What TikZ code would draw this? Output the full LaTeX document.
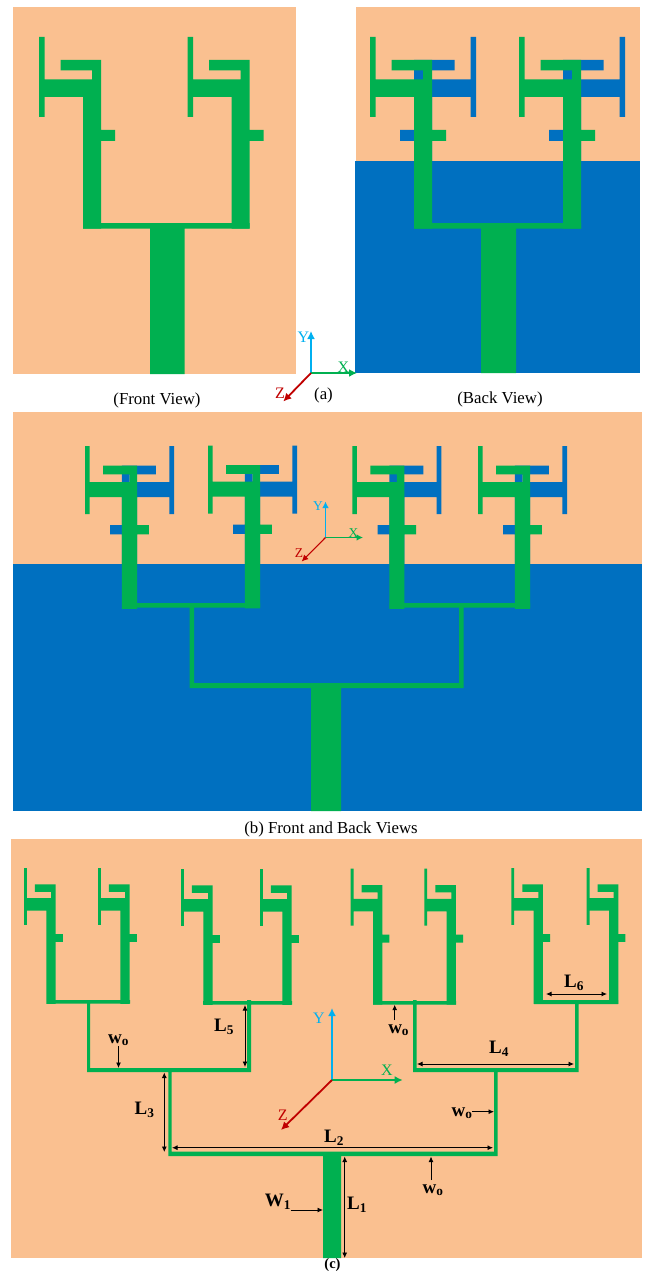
\documentclass[tikz,border=0pt]{standalone}
\usepackage{fontspec}
\setmainfont{Liberation Serif}
\usetikzlibrary{arrows.meta}
\definecolor{peach}{HTML}{FAC090}
\definecolor{pcbgreen}{HTML}{00B050}
\definecolor{pcbblue}{HTML}{0070C0}
\definecolor{axisy}{HTML}{00B0F0}
\definecolor{axisz}{HTML}{C00000}
\newcommand{\rr}[4]{(#1,#2) rectangle (#3,#4)}
% one element, in the local frame of the front view
\newcommand{\antshape}{%
  \rr{0}{0}{5.5}{80} \rr{21.5}{23}{62}{33.5} \rr{53}{23}{62}{60}
  \rr{5}{42.5}{62}{60} \rr{44}{60}{62}{191.5} \rr{62}{93}{76}{104}}
% #1 x, #2 y, #3 x-scale, #4 y-scale
\newcommand{\antfront}[4]{%
  \begin{scope}[shift={(#1,#2)},xscale=#3,yscale=#4]
    \fill[pcbgreen] \antshape;
  \end{scope}}
\newcommand{\antboth}[4]{%
  \begin{scope}[shift={(#1,#2)},xscale=#3,yscale=#4]
    \begin{scope}[shift={(106,0)},xscale=-1]
      \fill[pcbblue] \antshape;
    \end{scope}
    \fill[pcbgreen] \antshape;
  \end{scope}}
% dimension arrow: #1 name, #2 #3 start, #4 #5 end, #6 tips
\newcommand{\dimline}[6]{%
  \coordinate (#1-a) at (#2,#3);
  \coordinate (#1-b) at (#4,#5);
  \draw[dimarrow,#6] (#1-a) -- (#1-b);}
% axes: #1 name, #2 #3 origin, #4 Y-top, #5 X-end, #6 #7 Z-end, #8 width, #9 tip size
\newcommand{\axes}[9]{%
  \coordinate (#1-o) at (#2,#3);
  \coordinate (#1-y) at (#2,#4);
  \coordinate (#1-x) at (#5,#3);
  \coordinate (#1-z) at (#6,#7);
  \draw[axisy,line width=#8,-{Latex[length=#9,width=#9]}] (#1-o) -- (#1-y);
  \draw[pcbgreen,line width=#8,-{Latex[length=#9,width=#9]}] (#1-o) -- (#1-x);
  \draw[axisz,line width=#8,-{Latex[length=#9,width=#9]}] (#1-o) -- (#1-z);}
\tikzset{
  captext/.style={inner sep=0pt,font=\fontsize{16.8}{19}\selectfont},
  lab/.style={inner sep=0pt,font=\fontsize{19}{21}\selectfont\bfseries},
  axlab/.style={inner sep=0pt,font=\fontsize{16}{18}\selectfont},
  axlabsmall/.style={inner sep=0pt,font=\fontsize{13.5}{15}\selectfont},
  dimarrow/.style={black,line width=0.9pt},
  twotip/.style={{Latex[length=5.5pt,width=5pt]}-{Latex[length=5.5pt,width=5pt]}},
  onetip/.style={-{Latex[length=5.5pt,width=5pt]}}
}
\begin{document}
\begin{tikzpicture}[x=1pt,y=-1pt]
\useasboundingbox \rr{0}{0}{645}{1271};
\fill[white] \rr{0}{0}{645}{1271};

% ---------- (a) front view
\fill[peach] \rr{13}{7}{296}{374};
\antfront{39}{37}{1}{1}
\antfront{187.7}{37}{1}{1}
\fill[pcbgreen] \rr{83}{223}{249.7}{228.5} \rr{150}{228}{184.5}{374};

% ---------- (a) back view
\fill[peach] \rr{356}{7}{640}{162};
\fill[pcbblue] \rr{355}{161}{640}{373};
\antboth{370}{37}{1}{1}
\antboth{519}{37}{1}{1}
\fill[pcbgreen] \rr{414}{223}{581}{228.5} \rr{481}{228}{516}{373};

\axes{aa}{311}{373}{331}{357}{283.3}{401.5}{1.8pt}{8pt}
\node[axlab,text=axisy] (aay) at (303.5,337) {Y};
\node[axlab,text=pcbgreen] (aax) at (343.5,367) {X};
\node[axlab,text=axisz] (aaz) at (280,393) {Z};
\node[captext] (capf) at (157,400) {(Front View)};
\node[captext] (capa) at (323.5,395) {(a)};
\node[captext] (capk) at (500,399) {(Back View)};

% ---------- (b)
\fill[peach] \rr{13}{412}{642}{565};
\fill[pcbblue] \rr{13}{564}{642}{811};
\antboth{85}{446}{.84}{.85}
\antboth{208}{445.5}{.84}{.85}
\antboth{352.3}{446}{.84}{.85}
\antboth{478}{446}{.84}{.85}
\fill[pcbgreen] \rr{122.3}{603}{260}{607.7} \rr{389.5}{603}{530}{607.7}
  \rr{189.5}{605}{194}{688} \rr{459}{605}{463.5}{688}
  \rr{189.5}{683}{463.5}{688} \rr{311}{687}{341}{811};
\axes{bb}{325.5}{537.5}{501.5}{363}{301.7}{561.5}{1.1pt}{6.5pt}
\node[axlabsmall,text=axisy] (bby) at (318,506) {Y};
\node[axlabsmall,text=pcbgreen] (bbx) at (353.5,533) {X};
\node[axlabsmall,text=axisz] (bbz) at (299,553) {Z};
\node[captext] (capb) at (331,829) {(b) Front and Back Views};

% ---------- (c)
\fill[peach] \rr{11}{839}{642}{1258};
\antfront{24}{868}{.51}{.71}
\antfront{98}{868}{.51}{.71}
\antfront{181}{869}{.51}{.71}
\antfront{260}{869}{.51}{.71}
\antfront{350.7}{868.7}{.51}{.71}
\antfront{424.3}{868.7}{.51}{.71}
\antfront{511.3}{868}{.51}{.71}
\antfront{586.7}{868}{.51}{.71}
\fill[pcbgreen]
  \rr{47}{1000}{130}{1003.7} \rr{203}{1001}{292}{1004.7}
  \rr{373}{1001}{456}{1004.7} \rr{534}{1000}{618}{1004}
  \rr{87}{1003}{90}{1072} \rr{247}{1000}{251}{1072}
  \rr{87}{1068}{251}{1072}
  \rr{413}{1000}{416.5}{1072} \rr{575}{1004}{578.5}{1072}
  \rr{413}{1068}{578.5}{1072}
  \rr{168.3}{1070}{171.7}{1156} \rr{494}{1070}{497.5}{1156}
  \rr{168.3}{1151.7}{497.5}{1156}
  \rr{323}{1155}{341}{1258};
\axes{cc}{332}{1080}{1008}{402.7}{281}{1130}{1.8pt}{8pt}
\node[axlab,text=axisy] (ccy) at (319,1018) {Y};
\node[axlab,text=pcbgreen] (ccx) at (387,1070) {X};
\node[axlab,text=axisz] (ccz) at (282.7,1115) {Z};

\dimline{l1}{344.7}{1156.5}{344.7}{1258}{twotip}
\dimline{l2}{172}{1147.7}{493}{1147.7}{twotip}
\dimline{l3}{164.3}{1072.5}{164.3}{1152}{twotip}
\dimline{l4}{417}{1064}{574}{1064}{twotip}
\dimline{l5}{245}{1005}{245}{1067}{twotip}
\dimline{l6}{546}{994}{607}{994}{twotip}
\dimline{w1}{290.7}{1210}{323}{1210}{onetip}
\dimline{wa}{118.5}{1046}{118.5}{1068}{onetip}
\dimline{wb}{394.7}{1020}{394.7}{1004.7}{onetip}
\dimline{wc}{472}{1111.7}{494}{1111.7}{onetip}
\dimline{wd}{431}{1180}{431}{1156.5}{onetip}
\node[lab] (tl1) at (357,1205) {L\textsubscript{1}};
\node[lab] (tl2) at (334,1138) {L\textsubscript{2}};
\node[lab] (tl3) at (144.5,1110) {L\textsubscript{3}};
\node[lab] (tl4) at (499,1049) {L\textsubscript{4}};
\node[lab] (tl5) at (224,1027) {L\textsubscript{5}};
\node[lab] (tl6) at (574,983) {L\textsubscript{6}};
\node[lab] (tw1) at (278,1202) {W\textsubscript{1}};
\node[lab] (twa) at (118.5,1040) {w\textsubscript{o}};
\node[lab] (twb) at (398.7,1030) {w\textsubscript{o}};
\node[lab] (twc) at (462,1113) {w\textsubscript{o}};
\node[lab] (twd) at (433,1190) {w\textsubscript{o}};
\node[inner sep=0pt,font=\fontsize{14.5}{16}\selectfont\bfseries] (capc) at (332.5,1264.5) {(c)};
\end{tikzpicture}
\end{document}
